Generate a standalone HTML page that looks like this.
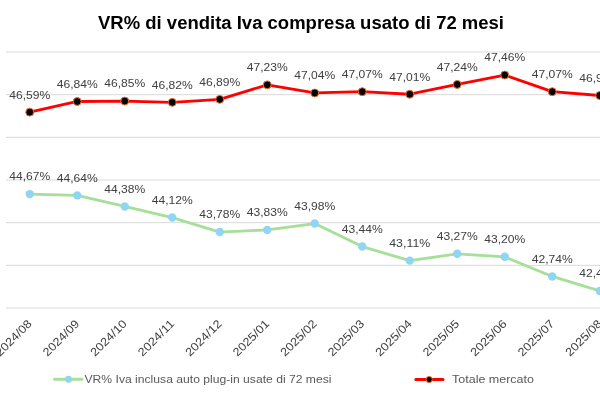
<!DOCTYPE html><html><head><meta charset="utf-8"><style>html,body{margin:0;padding:0;background:#fff;width:600px;height:400px;overflow:hidden}svg{display:block;will-change:transform}text{font-family:"Liberation Sans",sans-serif}</style></head><body>
<svg width="600" height="400" viewBox="0 0 600 400">
<rect width="600" height="400" fill="#fff"/>
<text x="98" y="28.8" font-size="17.5" font-weight="bold" fill="#000" textLength="406" lengthAdjust="spacingAndGlyphs">VR% di vendita Iva compresa usato di 72 mesi</text>
<line x1="6" x2="600" y1="52.00" y2="52.00" stroke="#d9d9d9" stroke-width="1"/>
<line x1="6" x2="600" y1="94.67" y2="94.67" stroke="#d9d9d9" stroke-width="1"/>
<line x1="6" x2="600" y1="137.33" y2="137.33" stroke="#d9d9d9" stroke-width="1"/>
<line x1="6" x2="600" y1="180.00" y2="180.00" stroke="#d9d9d9" stroke-width="1"/>
<line x1="6" x2="600" y1="222.67" y2="222.67" stroke="#d9d9d9" stroke-width="1"/>
<line x1="6" x2="600" y1="265.34" y2="265.34" stroke="#d9d9d9" stroke-width="1"/>
<line x1="6" x2="600" y1="308.00" y2="308.00" stroke="#d9d9d9" stroke-width="1"/>
<polyline points="29.75,112.16 77.25,101.49 124.75,101.07 172.25,102.35 219.75,99.36 267.25,84.85 314.75,92.96 362.25,91.68 409.75,94.24 457.25,84.43 504.75,75.04 552.25,91.68 599.75,95.52" fill="none" stroke="#ff0000" stroke-width="2.8" stroke-linejoin="round"/>
<polyline points="29.75,194.08 77.25,195.36 124.75,206.45 172.25,217.55 219.75,232.05 267.25,229.92 314.75,223.52 362.25,246.56 409.75,260.64 457.25,253.81 504.75,256.80 552.25,276.43 599.75,290.94" fill="none" stroke="#a6df98" stroke-width="2.8" stroke-linejoin="round"/>
<circle cx="29.75" cy="112.16" r="3.95" fill="#000" stroke="#e97132" stroke-width="1"/>
<circle cx="77.25" cy="101.49" r="3.95" fill="#000" stroke="#e97132" stroke-width="1"/>
<circle cx="124.75" cy="101.07" r="3.95" fill="#000" stroke="#e97132" stroke-width="1"/>
<circle cx="172.25" cy="102.35" r="3.95" fill="#000" stroke="#e97132" stroke-width="1"/>
<circle cx="219.75" cy="99.36" r="3.95" fill="#000" stroke="#e97132" stroke-width="1"/>
<circle cx="267.25" cy="84.85" r="3.95" fill="#000" stroke="#e97132" stroke-width="1"/>
<circle cx="314.75" cy="92.96" r="3.95" fill="#000" stroke="#e97132" stroke-width="1"/>
<circle cx="362.25" cy="91.68" r="3.95" fill="#000" stroke="#e97132" stroke-width="1"/>
<circle cx="409.75" cy="94.24" r="3.95" fill="#000" stroke="#e97132" stroke-width="1"/>
<circle cx="457.25" cy="84.43" r="3.95" fill="#000" stroke="#e97132" stroke-width="1"/>
<circle cx="504.75" cy="75.04" r="3.95" fill="#000" stroke="#e97132" stroke-width="1"/>
<circle cx="552.25" cy="91.68" r="3.95" fill="#000" stroke="#e97132" stroke-width="1"/>
<circle cx="599.75" cy="95.52" r="3.95" fill="#000" stroke="#e97132" stroke-width="1"/>
<circle cx="29.75" cy="194.08" r="4.2" fill="#91d5f5"/>
<circle cx="77.25" cy="195.36" r="4.2" fill="#91d5f5"/>
<circle cx="124.75" cy="206.45" r="4.2" fill="#91d5f5"/>
<circle cx="172.25" cy="217.55" r="4.2" fill="#91d5f5"/>
<circle cx="219.75" cy="232.05" r="4.2" fill="#91d5f5"/>
<circle cx="267.25" cy="229.92" r="4.2" fill="#91d5f5"/>
<circle cx="314.75" cy="223.52" r="4.2" fill="#91d5f5"/>
<circle cx="362.25" cy="246.56" r="4.2" fill="#91d5f5"/>
<circle cx="409.75" cy="260.64" r="4.2" fill="#91d5f5"/>
<circle cx="457.25" cy="253.81" r="4.2" fill="#91d5f5"/>
<circle cx="504.75" cy="256.80" r="4.2" fill="#91d5f5"/>
<circle cx="552.25" cy="276.43" r="4.2" fill="#91d5f5"/>
<circle cx="599.75" cy="290.94" r="4.2" fill="#91d5f5"/>
<text x="29.75" y="98.56" text-anchor="middle" font-size="11" fill="#404040" textLength="41" lengthAdjust="spacingAndGlyphs">46,59%</text>
<text x="77.25" y="87.89" text-anchor="middle" font-size="11" fill="#404040" textLength="41" lengthAdjust="spacingAndGlyphs">46,84%</text>
<text x="124.75" y="87.47" text-anchor="middle" font-size="11" fill="#404040" textLength="41" lengthAdjust="spacingAndGlyphs">46,85%</text>
<text x="172.25" y="88.75" text-anchor="middle" font-size="11" fill="#404040" textLength="41" lengthAdjust="spacingAndGlyphs">46,82%</text>
<text x="219.75" y="85.76" text-anchor="middle" font-size="11" fill="#404040" textLength="41" lengthAdjust="spacingAndGlyphs">46,89%</text>
<text x="267.25" y="71.25" text-anchor="middle" font-size="11" fill="#404040" textLength="41" lengthAdjust="spacingAndGlyphs">47,23%</text>
<text x="314.75" y="79.36" text-anchor="middle" font-size="11" fill="#404040" textLength="41" lengthAdjust="spacingAndGlyphs">47,04%</text>
<text x="362.25" y="78.08" text-anchor="middle" font-size="11" fill="#404040" textLength="41" lengthAdjust="spacingAndGlyphs">47,07%</text>
<text x="409.75" y="80.64" text-anchor="middle" font-size="11" fill="#404040" textLength="41" lengthAdjust="spacingAndGlyphs">47,01%</text>
<text x="457.25" y="70.83" text-anchor="middle" font-size="11" fill="#404040" textLength="41" lengthAdjust="spacingAndGlyphs">47,24%</text>
<text x="504.75" y="61.44" text-anchor="middle" font-size="11" fill="#404040" textLength="41" lengthAdjust="spacingAndGlyphs">47,46%</text>
<text x="552.25" y="78.08" text-anchor="middle" font-size="11" fill="#404040" textLength="41" lengthAdjust="spacingAndGlyphs">47,07%</text>
<text x="599.75" y="81.92" text-anchor="middle" font-size="11" fill="#404040" textLength="41" lengthAdjust="spacingAndGlyphs">46,98%</text>
<text x="29.75" y="180.48" text-anchor="middle" font-size="11" fill="#404040" textLength="41" lengthAdjust="spacingAndGlyphs">44,67%</text>
<text x="77.25" y="181.76" text-anchor="middle" font-size="11" fill="#404040" textLength="41" lengthAdjust="spacingAndGlyphs">44,64%</text>
<text x="124.75" y="192.85" text-anchor="middle" font-size="11" fill="#404040" textLength="41" lengthAdjust="spacingAndGlyphs">44,38%</text>
<text x="172.25" y="203.95" text-anchor="middle" font-size="11" fill="#404040" textLength="41" lengthAdjust="spacingAndGlyphs">44,12%</text>
<text x="219.75" y="218.45" text-anchor="middle" font-size="11" fill="#404040" textLength="41" lengthAdjust="spacingAndGlyphs">43,78%</text>
<text x="267.25" y="216.32" text-anchor="middle" font-size="11" fill="#404040" textLength="41" lengthAdjust="spacingAndGlyphs">43,83%</text>
<text x="314.75" y="209.92" text-anchor="middle" font-size="11" fill="#404040" textLength="41" lengthAdjust="spacingAndGlyphs">43,98%</text>
<text x="362.25" y="232.96" text-anchor="middle" font-size="11" fill="#404040" textLength="41" lengthAdjust="spacingAndGlyphs">43,44%</text>
<text x="409.75" y="247.04" text-anchor="middle" font-size="11" fill="#404040" textLength="41" lengthAdjust="spacingAndGlyphs">43,11%</text>
<text x="457.25" y="240.21" text-anchor="middle" font-size="11" fill="#404040" textLength="41" lengthAdjust="spacingAndGlyphs">43,27%</text>
<text x="504.75" y="243.20" text-anchor="middle" font-size="11" fill="#404040" textLength="41" lengthAdjust="spacingAndGlyphs">43,20%</text>
<text x="552.25" y="262.83" text-anchor="middle" font-size="11" fill="#404040" textLength="41" lengthAdjust="spacingAndGlyphs">42,74%</text>
<text x="599.75" y="277.34" text-anchor="middle" font-size="11" fill="#404040" textLength="41" lengthAdjust="spacingAndGlyphs">42,40%</text>
<text x="32.55" y="324.50" text-anchor="end" font-size="11.5" fill="#404040" textLength="46" lengthAdjust="spacingAndGlyphs" transform="rotate(-45 32.55 324.50)">2024/08</text>
<text x="80.05" y="324.50" text-anchor="end" font-size="11.5" fill="#404040" textLength="46" lengthAdjust="spacingAndGlyphs" transform="rotate(-45 80.05 324.50)">2024/09</text>
<text x="127.55" y="324.50" text-anchor="end" font-size="11.5" fill="#404040" textLength="46" lengthAdjust="spacingAndGlyphs" transform="rotate(-45 127.55 324.50)">2024/10</text>
<text x="175.05" y="324.50" text-anchor="end" font-size="11.5" fill="#404040" textLength="46" lengthAdjust="spacingAndGlyphs" transform="rotate(-45 175.05 324.50)">2024/11</text>
<text x="222.55" y="324.50" text-anchor="end" font-size="11.5" fill="#404040" textLength="46" lengthAdjust="spacingAndGlyphs" transform="rotate(-45 222.55 324.50)">2024/12</text>
<text x="270.05" y="324.50" text-anchor="end" font-size="11.5" fill="#404040" textLength="46" lengthAdjust="spacingAndGlyphs" transform="rotate(-45 270.05 324.50)">2025/01</text>
<text x="317.55" y="324.50" text-anchor="end" font-size="11.5" fill="#404040" textLength="46" lengthAdjust="spacingAndGlyphs" transform="rotate(-45 317.55 324.50)">2025/02</text>
<text x="365.05" y="324.50" text-anchor="end" font-size="11.5" fill="#404040" textLength="46" lengthAdjust="spacingAndGlyphs" transform="rotate(-45 365.05 324.50)">2025/03</text>
<text x="412.55" y="324.50" text-anchor="end" font-size="11.5" fill="#404040" textLength="46" lengthAdjust="spacingAndGlyphs" transform="rotate(-45 412.55 324.50)">2025/04</text>
<text x="460.05" y="324.50" text-anchor="end" font-size="11.5" fill="#404040" textLength="46" lengthAdjust="spacingAndGlyphs" transform="rotate(-45 460.05 324.50)">2025/05</text>
<text x="507.55" y="324.50" text-anchor="end" font-size="11.5" fill="#404040" textLength="46" lengthAdjust="spacingAndGlyphs" transform="rotate(-45 507.55 324.50)">2025/06</text>
<text x="555.05" y="324.50" text-anchor="end" font-size="11.5" fill="#404040" textLength="46" lengthAdjust="spacingAndGlyphs" transform="rotate(-45 555.05 324.50)">2025/07</text>
<text x="602.55" y="324.50" text-anchor="end" font-size="11.5" fill="#404040" textLength="46" lengthAdjust="spacingAndGlyphs" transform="rotate(-45 602.55 324.50)">2025/08</text>
<line x1="54.5" x2="82" y1="379.3" y2="379.3" stroke="#a6df98" stroke-width="3" stroke-linecap="round"/>
<circle cx="68.5" cy="379.3" r="3.5" fill="#91d5f5"/>
<text x="84.5" y="383.1" font-size="11.5" fill="#595959" textLength="247" lengthAdjust="spacingAndGlyphs">VR% Iva inclusa auto plug-in usate di 72 mesi</text>
<line x1="415.8" x2="443" y1="379.5" y2="379.5" stroke="#ff0000" stroke-width="3" stroke-linecap="round"/>
<circle cx="429.2" cy="379.5" r="3.1" fill="#000" stroke="#e97132" stroke-width="1"/>
<text x="452" y="383.1" font-size="11.5" fill="#595959" textLength="82" lengthAdjust="spacingAndGlyphs">Totale mercato</text>
</svg></body></html>
